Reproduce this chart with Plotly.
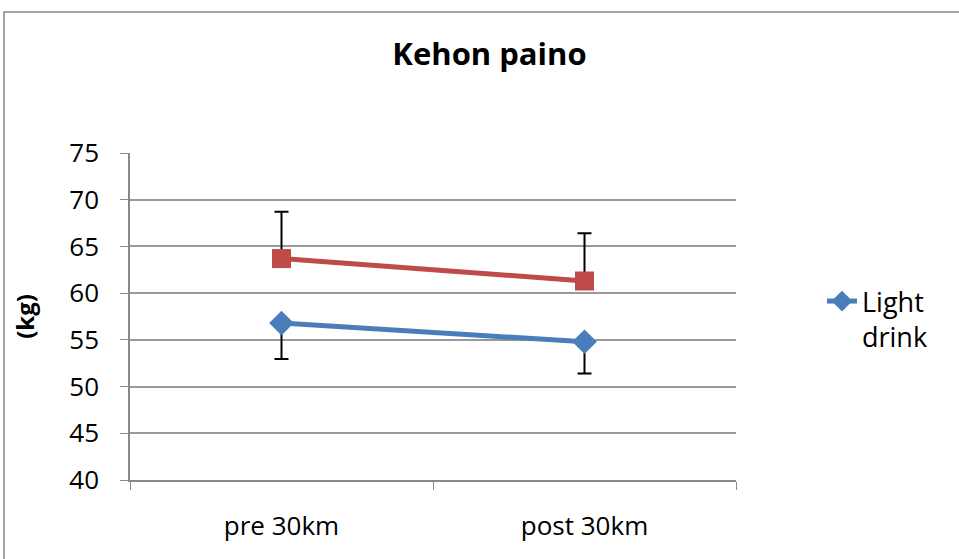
import plotly.graph_objects as go

categories = ["pre 30km", "post 30km"]
light_drink = [56.8, 54.8]
light_drink_err_minus = [3.85, 3.4]
other_series = [63.7, 61.3]
other_series_err_plus = [5.0, 5.1]
y_ticks = [40, 45, 50, 55, 60, 65, 70, 75]

W, H = 959, 559
L, R, T, B = 130, 223, 153, 79
pw, ph = W - L - R, H - T - B

def px_x(px):
    return (px - L) / pw

def px_y(py):
    return (H - B - py) / ph

FONT = "Open Sans, Lato, sans-serif"

fig = go.Figure()
fig.add_trace(go.Scatter(
    x=categories, y=light_drink, name="Light<br>drink", mode="lines+markers",
    line=dict(color="#4a7ebb", width=5),
    marker=dict(symbol="diamond", size=19, color="#4a7ebb"),
    error_y=dict(type="data", symmetric=False, array=[0, 0], arrayminus=light_drink_err_minus,
                 color="black", thickness=2, width=7),
))
fig.add_trace(go.Scatter(
    x=categories, y=other_series, name="", mode="lines+markers", showlegend=False,
    line=dict(color="#be4b48", width=5),
    marker=dict(symbol="square", size=19, color="#be4b48"),
    error_y=dict(type="data", symmetric=False, array=other_series_err_plus, arrayminus=[0, 0],
                 color="black", thickness=2, width=7),
))

fig.update_layout(
    width=W, height=H,
    margin=dict(l=L, r=R, t=T, b=B),
    paper_bgcolor="white", plot_bgcolor="white",
    font=dict(family=FONT, color="black"),
    title=dict(text="<b>Kehon paino</b>", x=489.5 / W, xanchor="center",
               y=1 - 54 / H, yanchor="middle", font=dict(size=31, family=FONT)),
    showlegend=True,
    legend=dict(x=px_x(822), y=px_y(277), xanchor="left", yanchor="top",
                font=dict(size=27), bgcolor="rgba(0,0,0,0)", valign="top",
                tracegroupgap=0),
    xaxis=dict(type="category", range=[-0.5, 1.5], tickson="boundaries",
               ticks="outside", ticklen=8, tickcolor="#888", showline=True,
               linecolor="#888", linewidth=1.5, showgrid=False,
               tickfont=dict(size=26), ticklabelstandoff=22, fixedrange=True),
    yaxis=dict(range=[40, 75], tickvals=y_ticks, ticks="outside", ticklen=8,
               tickcolor="#888", showline=True, linecolor="#888", linewidth=1.5,
               showgrid=True, gridcolor="#999", gridwidth=1.5, zeroline=False,
               tickfont=dict(size=26), ticklabelstandoff=16,
               title=dict(text="<b>(kg)</b>", font=dict(size=24), standoff=28)),
    shapes=[dict(type="rect", xref="paper", yref="paper",
                 x0=px_x(4), x1=px_x(970), y0=px_y(570), y1=px_y(12),
                 line=dict(color="#888", width=1.5), fillcolor="rgba(0,0,0,0)",
                 layer="below")],
)

fig.write_html("out.html", config={"displayModeBar": False},
               post_script="document.body.style.margin='0';")
